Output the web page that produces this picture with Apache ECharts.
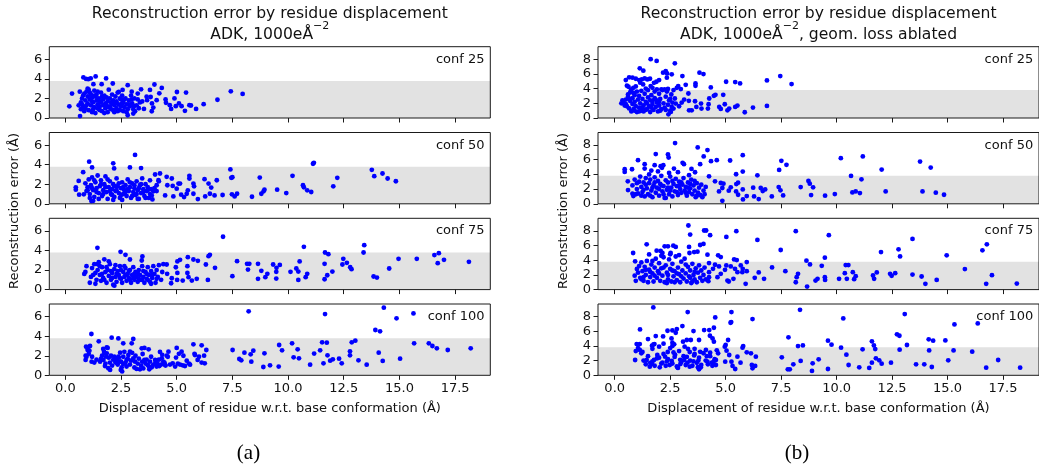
<!DOCTYPE html>
<html><head><meta charset="utf-8">
<script src="https://cdn.jsdelivr.net/npm/echarts@6/dist/echarts.min.js"></script>
<style>html,body{margin:0;padding:0;background:#fff}#c{width:1039px;height:464px}</style>
</head><body><div id="c"></div>
<script>
const xTicks=[0,2.5,5,7.5,10,12.5,15,17.5];
const yTicksA=[0,2,4,6];
const yTicksB=[0,2,4,6,8];
const confLabels=['conf 25','conf 50','conf 75','conf 100'];
const bandTop=3.8;
const titleA=['Reconstruction error by residue displacement','{n|ADK, 1000eÅ}{s|−2}'];
const titleB=['Reconstruction error by residue displacement','{n|ADK, 1000eÅ}{s|−2}{n|, geom. loss ablated}'];
const xName='Displacement of residue w.r.t. base conformation (Å)';
const yName='Reconstruction error (Å)';

const a25=[[0.81,4.15],[0.93,4.0],[1.03,3.98],[1.14,4.05],[1.36,4.26],[1.83,4.05],[0.66,0.2],[2.8,0.28],[2.13,3.53],[1.63,3.46],[1.26,3.46],[2.8,3.36],[3.4,2.94],[4.0,3.43],[4.33,3.08],[4.22,2.53],[3.8,2.87],[3.65,2.18],[3.83,2.15],[4.1,1.83],[4.5,1.9],[4.9,2.0],[5.01,2.66],[5.42,2.6],[6.83,1.87],[7.43,2.73],[7.96,2.46],[6.21,1.42],[5.87,0.93],[5.57,1.31],[5.22,1.21],[5.1,1.49],[4.96,1.21],[4.75,0.93],[5.37,0.73],[5.64,1.28],[3.89,1.49],[3.88,0.69],[3.53,0.93],[3.35,1.59],[3.13,0.69],[3.05,0.45],[2.4,2.66],[2.57,2.87],[2.98,2.7],[3.25,1.9],[2.98,1.9],[3.08,1.21],[3.95,1.07],[3.67,1.83],[4.52,1.56],[4.69,1.31],[0.18,1.2],[0.3,2.5],
[0.6,1.3],[0.7,1.6],[0.75,2.0],[0.8,1.2],[0.85,2.5],[0.9,1.8],[0.9,1.0],[0.95,2.7],[1.0,1.5],[1.0,2.2],[1.05,0.8],[1.1,1.9],[1.1,2.6],[1.15,1.3],[1.2,0.6],[1.2,2.1],[1.25,1.6],[1.3,2.8],[1.3,1.1],[1.35,0.5],[1.4,1.8],[1.4,2.4],[1.45,1.4],[1.5,0.9],[1.5,2.0],[1.55,1.2],[1.6,2.6],[1.6,1.6],[1.65,0.7],[1.7,1.9],[1.7,1.3],[1.75,2.3],[1.8,1.0],[1.8,1.5],[1.85,2.1],[1.9,0.6],[1.9,1.7],[1.95,2.9],[2.0,1.2],[2.0,2.0],[2.05,0.9],[2.1,1.5],[2.1,2.4],[2.15,1.8],[2.2,0.6],[2.2,1.3],[2.25,2.2],[2.3,1.0],[2.3,1.7],[2.35,2.6],[2.4,1.4],[2.45,0.8],[2.5,1.9],[2.5,1.2],[2.55,2.3],[2.6,0.7],[2.6,1.6],[2.65,1.1],[2.7,2.0],[2.75,1.4],[2.8,0.9],[2.85,1.8],[2.9,1.2],[2.95,2.3],[3.0,1.5],[0.7,0.9],[0.8,2.3],[1.0,3.0],[1.15,2.4],[1.25,0.9],[1.35,2.2],[1.45,1.0],[1.55,1.7],[1.65,2.2],[1.75,0.5],[1.85,1.3],[1.95,1.1],[2.05,1.6],[2.15,0.8],[2.25,1.5],[2.35,0.7],[2.45,2.0],[2.55,1.5],[2.65,1.9],[2.75,0.6],[2.85,1.4],[3.05,0.9],[3.1,2.0],[3.2,1.3],[3.25,2.5],[3.3,1.0],[3.45,1.7],[0.65,2.7],[0.75,1.4],[0.85,0.7],[0.95,1.3],[1.05,2.9],[1.2,1.7],[1.3,2.3],[1.45,2.7],[1.55,0.8]];

const a50=[[1.07,4.31],[2.15,4.14],[3.13,5.0],[1.2,3.72],[2.19,3.62],[2.9,3.72],[3.4,3.66],[0.8,3.24],[0.6,2.34],[0.47,1.69],[0.47,1.45],[0.62,0.93],[0.83,0.97],[1.17,0.28],[7.41,3.52],[7.45,2.66],[7.5,2.72],[8.73,2.69],[10.2,2.86],[11.16,4.2],[11.12,4.1],[12.21,2.66],[12.03,1.79],[13.76,3.48],[13.87,2.83],[14.24,3.1],[14.47,2.59],[14.84,2.31],[10.67,1.9],[10.71,1.69],[10.86,1.38],[11.04,1.21],[9.51,1.45],[9.92,1.1],[8.94,1.45],[8.9,1.28],[8.8,1.03],[8.38,0.72],[7.71,1.03],[7.6,0.76],[7.48,0.97],[7.06,0.9],[6.8,2.41],[6.55,1.66],[6.43,2.07],[6.25,2.52],[6.7,0.86],[6.28,0.76],[6.49,1.03],[5.95,0.48],[5.75,2.07],[5.78,1.79],[5.75,1.03],[5.57,2.86],[5.57,2.59],[5.5,1.38],[5.45,1.03],[5.33,0.69],[5.15,2.07],[5.08,2.07],[5.0,1.55],[5.2,0.93],[4.85,0.76],[4.82,1.83],[4.78,2.59],[4.55,2.76],[4.58,1.9],[4.48,0.86],[4.25,3.1],[4.03,3.0],[4.18,2.41],[4.1,1.9],[3.95,1.28],[3.88,0.86],[3.91,0.45],
[0.9,2.1],[0.95,1.3],[1.0,1.7],[1.05,2.5],[1.1,1.0],[1.15,1.9],[1.2,2.7],[1.25,1.4],[1.3,0.7],[1.35,2.2],[1.4,1.6],[1.45,2.9],[1.5,1.1],[1.55,1.8],[1.6,2.4],[1.65,0.8],[1.7,1.4],[1.75,2.0],[1.8,2.8],[1.85,1.2],[1.9,0.5],[1.95,1.7],[2.0,2.3],[2.05,1.0],[2.1,1.5],[2.15,2.0],[2.2,0.7],[2.25,1.3],[2.3,2.6],[2.35,1.8],[2.4,1.1],[2.45,0.6],[2.5,1.6],[2.55,2.2],[2.6,1.0],[2.65,1.4],[2.7,1.9],[2.75,0.8],[2.8,2.5],[2.85,1.3],[2.9,1.7],[2.95,0.6],[3.0,2.1],[3.05,1.2],[3.1,1.6],[3.15,0.9],[3.2,2.3],[3.25,1.4],[3.3,0.5],[3.35,1.9],[3.4,1.1],[3.45,2.6],[3.5,1.5],[3.55,0.8],[3.6,2.0],[3.65,1.3],[3.7,1.7],[3.75,0.6],[3.8,2.4],[3.85,1.5],[1.0,1.4],[1.1,0.6],[1.2,1.6],[1.3,2.4],[1.4,1.2],[1.5,0.5],[1.6,2.0],[1.7,1.0],[1.8,1.7],[1.9,2.5],[2.0,1.3],[2.1,0.9],[2.2,1.8],[2.3,1.4],[2.4,2.1],[2.5,0.9],[2.6,1.7],[2.7,1.2],[2.8,1.5],[2.9,2.2],[3.0,0.8],[3.1,1.9],[3.2,1.0],[3.3,1.6],[3.4,2.0],[3.5,1.2],[3.6,0.6],[3.7,1.4],[3.8,1.0],[4.0,1.6],[4.1,1.3],[4.2,2.3],[1.25,0.3],[2.15,0.4],[2.55,0.4],[3.25,0.5]];

const a75=[[1.44,4.28],[2.48,3.87],[2.7,3.56],[3.46,3.39],[3.43,2.98],[2.9,3.08],[7.08,5.41],[10.71,4.38],[11.66,3.8],[11.81,3.63],[13.42,4.55],[13.39,3.8],[16.57,3.53],[16.77,3.73],[17.0,3.05],[16.72,2.71],[18.12,2.84],[15.78,3.15],[14.96,3.15],[14.54,2.16],[13.84,1.34],[13.99,1.23],[12.85,2.09],[12.79,2.29],[12.64,2.74],[12.44,2.57],[12.48,3.15],[11.99,1.85],[11.76,1.47],[11.64,1.06],[11.64,2.64],[10.86,1.61],[10.79,1.27],[10.52,2.88],[10.46,1.85],[10.37,2.16],[10.11,1.82],[10.46,0.99],[9.63,2.53],[9.48,2.23],[9.33,2.57],[9.47,1.82],[9.47,1.13],[9.07,1.61],[8.98,1.27],[8.8,1.92],[8.65,1.1],[8.65,2.64],[8.26,2.64],[8.16,2.64],[8.2,2.05],[7.71,2.91],[7.5,1.37],[6.72,2.23],[6.43,3.42],[6.49,3.56],[6.4,0.99],[6.31,2.57],[5.95,2.95],[5.75,3.08],[5.5,3.32],[5.48,2.4],[5.48,1.71],[5.9,1.1],[5.68,0.92],[5.53,1.27],[5.15,3.05],[5.03,2.88],[4.96,2.29],[5.03,1.71],[5.02,0.99],[5.27,0.92],[4.75,0.65],[4.78,1.16],[4.55,2.57],[4.57,1.61],
[0.85,1.6],[0.9,1.8],[0.95,2.4],[1.1,0.7],[1.15,1.3],[1.2,2.2],[1.3,2.6],[1.35,1.7],[1.4,1.0],[1.45,2.0],[1.5,2.8],[1.55,1.5],[1.6,0.9],[1.65,2.3],[1.7,1.2],[1.75,3.1],[1.8,1.8],[1.85,0.7],[1.9,2.0],[1.95,1.4],[2.0,2.6],[2.05,1.0],[2.1,1.7],[2.15,0.5],[2.2,2.1],[2.25,1.3],[2.3,0.8],[2.35,1.9],[2.4,1.5],[2.45,2.4],[2.5,1.1],[2.55,0.7],[2.6,1.8],[2.65,1.3],[2.7,2.2],[2.75,0.9],[2.8,1.6],[2.85,1.2],[2.9,2.0],[2.95,0.7],[3.0,1.5],[3.05,2.3],[3.1,1.0],[3.15,1.8],[3.2,1.3],[3.25,0.8],[3.3,2.0],[3.35,1.5],[3.4,1.0],[3.45,2.4],[3.5,1.3],[3.55,0.7],[3.6,1.8],[3.65,1.1],[3.7,2.3],[3.75,1.5],[3.8,0.8],[3.85,1.9],[3.9,1.2],[3.95,2.4],[4.0,1.6],[4.05,0.7],[4.1,2.0],[4.15,1.3],[4.2,2.5],[4.3,1.0],[4.35,1.8],[4.4,2.6],[1.25,1.5],[1.55,2.4],[1.75,1.0],[1.95,2.9],[2.1,1.2],[2.3,1.6],[2.5,2.0],[2.7,1.5],[2.9,1.0],[3.1,1.6],[3.3,1.1],[3.5,1.9],[3.7,1.0],[3.9,1.5],[4.1,1.1],[1.45,2.6],[1.65,1.6],[1.85,2.3],[2.05,1.9],[2.25,2.5],[2.45,1.2],[2.65,2.4],[2.85,1.9],[3.05,1.2],[3.25,1.7],[3.45,1.0],[3.65,1.6],[3.85,0.6],[1.35,0.6],[2.2,0.4]];

const a100=[[8.23,6.55],[11.66,6.27],[14.3,6.92],[14.87,5.83],[15.63,6.34],[13.92,4.64],[14.13,4.5],[1.17,4.23],[2.08,3.85],[2.38,3.78],[3.05,3.72],[1.5,3.48],[0.93,2.93],[1.11,3.0],[1.0,2.59],[1.86,2.86],[2.6,3.27],[2.98,3.27],[3.43,2.76],[3.74,2.66],[4.25,2.39],[4.63,2.42],[5.0,2.8],[5.22,2.42],[5.75,3.17],[6.12,3.07],[5.82,2.08],[6.23,2.01],[6.33,2.59],[6.26,1.23],[6.12,1.3],[5.94,1.57],[5.6,1.09],[5.37,0.95],[5.27,1.02],[4.97,1.81],[4.93,0.89],[4.82,1.23],[7.51,2.59],[7.81,1.67],[7.9,1.53],[8.04,2.32],[8.35,1.4],[8.32,2.15],[8.44,2.52],[8.89,0.85],[8.94,2.25],[9.19,1.02],[9.58,0.89],[9.6,3.1],[9.73,2.56],[10.18,3.27],[10.25,1.84],[10.43,2.66],[10.49,1.74],[10.99,1.09],[11.17,2.22],[11.44,2.56],[11.53,3.38],[11.74,3.34],[11.59,1.23],[11.77,2.05],[11.89,1.5],[12.01,1.64],[12.29,1.7],[12.41,1.23],[12.78,2.45],[12.78,2.05],[12.86,3.38],[13.02,3.55],[13.16,1.53],[13.53,1.09],[14.07,2.32],[14.25,1.47],[15.03,1.7],[15.66,3.27],[16.32,3.27],[16.48,3.0],[16.68,2.76],[17.17,2.59],[18.2,2.76],
[0.91,2.01],[0.91,1.57],[1.08,2.52],[1.18,1.4],[1.56,1.4],[1.71,1.57],[1.74,2.42],[1.86,2.25],[1.83,1.91],[1.78,0.95],[1.93,0.72],[2.01,0.55],[2.25,1.3],[2.31,1.74],[2.38,1.91],[2.46,2.32],[2.49,0.55],[2.53,0.82],[2.6,1.16],[2.75,1.57],[2.83,2.08],[2.9,2.42],[3.05,1.74],[3.13,1.4],[3.2,0.65],[3.35,0.61],[3.47,2.18],[3.55,1.57],[3.7,1.06],[3.77,0.61],[3.88,0.82],[4.03,1.57],[4.13,1.23],[4.22,0.95],[4.33,1.74],[4.4,1.4],[4.48,1.06],[4.55,2.01],
[1.2,1.9],[1.3,1.3],[1.4,1.6],[1.6,1.7],[1.65,2.0],[1.7,2.7],[1.75,2.3],[1.8,1.2],[1.9,2.8],[2.0,1.3],[2.1,1.0],[2.15,1.6],[2.2,1.9],[2.3,1.5],[2.35,1.1],[2.4,1.8],[2.5,1.4],[2.55,0.4],[2.6,1.9],[2.7,1.3],[2.75,0.9],[2.8,1.7],[2.9,1.1],[2.95,1.5],[3.0,2.3],[3.1,0.8],[3.15,2.0],[3.25,1.2],[3.3,1.7],[3.4,1.0],[3.45,1.4],[3.5,0.7],[3.6,1.2],[3.65,1.6],[3.75,0.9],[3.8,1.4],[3.85,1.9],[3.95,1.1],[4.05,1.3],[4.1,0.9],[4.2,1.6],[4.3,1.1],[4.35,2.1],[4.45,1.3],[4.5,1.0],[4.6,1.9],[4.7,1.1],[5.1,2.2],[5.15,1.1],[5.3,2.0],[5.45,1.5],[5.55,1.2],[5.8,2.2],[6.0,1.9],[5.05,1.2],[1.0,2.8],[1.05,2.2],[0.95,1.9],[2.65,2.4],[3.55,2.8],[2.45,1.4],[1.95,1.8],[2.05,2.0]];

const b25=[[1.62,8.0],[1.89,7.76],[2.71,7.44],[1.13,6.76],[1.29,6.44],[2.3,6.39],[2.36,6.07],[2.18,6.16],[2.57,5.94],[3.82,6.16],[4.0,5.98],[3.05,5.71],[2.35,5.48],[0.5,5.16],[0.65,5.53],[0.8,5.48],[0.95,5.34],[1.1,5.16],[1.22,5.25],[1.35,5.39],[1.47,5.25],[1.59,5.34],[1.77,4.79],[1.88,4.93],[2.0,5.16],[0.62,4.25],[0.84,4.11],[1.28,4.57],[1.62,4.34],[2.8,4.11],[2.86,4.34],[2.98,3.93],[3.2,4.52],[3.64,4.7],[3.64,4.38],[4.33,4.16],[5.02,4.93],[5.43,4.89],[5.65,4.7],[6.86,5.11],[7.46,5.71],[7.97,4.61],[6.86,1.64],[6.23,1.42],[5.86,0.78],[5.53,1.69],[5.43,1.51],[5.16,1.28],[5.08,1.05],[4.96,1.87],[4.71,1.51],[4.78,1.23],[4.89,3.15],[4.54,3.15],[4.47,3.01],[4.26,2.65],[4.23,1.87],[4.2,1.28],[3.89,1.96],[3.91,1.28],[3.68,1.51],[3.47,1.05],[3.35,1.05],[3.62,2.28],[3.34,2.33],[3.32,3.33],[3.13,2.51],[3.02,2.1],[2.9,1.6],[2.75,1.96],[2.71,2.65],[2.65,1.28],[2.53,0.82],[2.42,0.5],[2.57,1.51],
[0.3,2.0],[0.4,2.1],[0.45,1.7],[0.5,2.5],[0.55,1.6],[0.6,3.2],[0.6,2.9],[0.65,1.3],[0.7,2.3],[0.7,3.5],[0.75,0.9],[0.8,1.9],[0.8,2.7],[0.85,1.2],[0.9,3.1],[0.9,2.2],[0.95,1.6],[1.0,3.6],[1.0,0.8],[1.05,2.5],[1.1,1.4],[1.1,3.0],[1.15,2.0],[1.2,1.0],[1.2,3.7],[1.25,2.6],[1.3,1.7],[1.3,0.9],[1.35,3.3],[1.4,2.2],[1.45,1.2],[1.5,2.8],[1.5,3.8],[1.55,1.6],[1.6,0.8],[1.6,2.4],[1.65,3.1],[1.7,1.9],[1.75,1.1],[1.8,2.7],[1.8,3.6],[1.85,1.5],[1.9,2.1],[1.95,0.9],[2.0,3.3],[2.0,1.7],[2.05,2.6],[2.1,1.2],[2.15,3.8],[2.2,2.0],[2.25,1.4],[2.3,2.9],[2.35,3.6],[2.4,1.8],[2.45,2.4],[2.5,1.0],[2.55,3.2],[2.6,2.1],[2.65,3.8],[0.55,4.4],[0.75,3.9],[0.95,4.3],[1.15,4.8],[1.4,4.0],[1.7,4.1],[1.9,3.9],[2.1,3.9],[2.25,3.9],[2.4,3.95],[0.35,2.4],[0.5,1.9],[0.65,2.6],[0.85,3.4],[1.25,1.4],[1.45,2.0],[1.65,1.4],[1.85,2.5],[2.05,1.0],[2.3,1.1],[2.5,2.6],[0.9,1.0],[1.1,0.9],[1.4,1.1],[1.7,2.3],[2.0,2.2]];

const b50=[[2.72,8.26],[3.74,7.67],[4.18,7.31],[1.85,6.76],[2.4,6.71],[2.43,6.3],[4.01,6.44],[5.77,6.62],[1.05,5.94],[4.34,5.8],[4.6,5.94],[5.2,5.89],[7.51,5.84],[7.74,5.3],[7.41,4.61],[10.19,6.21],[11.18,6.44],[12.03,4.66],[13.76,5.75],[14.24,4.93],[0.45,4.7],[0.45,4.34],[0.78,4.7],[1.35,5.39],[1.35,4.79],[1.65,4.52],[1.8,5.25],[2.07,5.11],[2.13,4.89],[2.19,5.25],[2.67,4.79],[3.06,5.57],[3.12,5.39],[3.46,4.75],[3.62,4.29],[3.85,5.39],[5.47,4.02],[5.77,4.38],[6.43,3.88],[0.59,3.06],[0.6,1.87],[0.84,1.05],[0.8,1.37],[4.25,3.74],[4.52,3.06],[4.78,2.83],[4.9,2.74],[4.85,2.15],[4.7,1.69],[4.85,0.41],[5.14,1.78],[5.23,2.24],[5.48,2.69],[5.56,2.88],[5.47,1.69],[5.56,1.23],[5.77,1.96],[5.78,0.59],[5.95,1.05],[6.24,2.19],[6.28,1.0],[6.49,0.64],[6.58,2.15],[6.67,1.74],[6.78,1.96],[7.08,1.0],[7.39,2.28],[7.47,1.83],[7.59,1.14],[8.38,2.28],[8.73,3.11],[8.79,2.74],[8.94,2.24],[8.85,1.19],[9.48,1.1],[9.92,1.32],[10.65,3.79],[11.12,3.33],[10.71,1.55],[10.86,1.69],[11.05,1.46],[12.21,1.69],[13.87,1.69],[14.47,1.51],[14.84,1.23],
[0.8,2.5],[0.9,3.3],[1.0,2.0],[1.05,1.4],[1.1,3.0],[1.15,3.7],[1.2,2.3],[1.25,1.6],[1.3,2.9],[1.35,1.0],[1.4,3.5],[1.45,2.1],[1.5,1.3],[1.55,2.8],[1.6,3.3],[1.65,1.8],[1.7,0.9],[1.75,2.5],[1.8,3.6],[1.85,1.5],[1.9,2.2],[1.95,3.1],[2.0,1.1],[2.05,2.7],[2.1,3.8],[2.15,1.7],[2.2,2.4],[2.25,0.8],[2.3,3.2],[2.35,1.9],[2.4,2.9],[2.45,1.3],[2.5,3.7],[2.55,2.2],[2.6,1.0],[2.65,2.7],[2.7,1.7],[2.75,3.4],[2.8,2.4],[2.85,1.2],[2.9,3.0],[2.95,2.0],[3.0,1.5],[3.05,2.6],[3.1,3.5],[3.15,1.8],[3.2,2.3],[3.25,1.1],[3.3,2.9],[3.35,1.6],[3.4,2.1],[3.45,3.3],[3.5,1.3],[3.55,2.5],[3.6,1.8],[3.65,0.9],[3.7,2.8],[3.75,1.5],[3.8,2.2],[3.85,1.2],[3.9,2.6],[4.0,1.8],[4.05,1.3],[4.1,2.3],[1.0,2.8],[1.2,1.1],[1.4,2.6],[1.6,1.1],[1.8,2.9],[2.0,2.0],[2.2,1.3],[2.4,2.2],[2.6,3.1],[2.8,1.6],[3.0,2.9],[3.2,1.5],[3.4,2.7],[3.6,3.1],[1.3,1.9],[1.7,2.2],[2.1,2.5],[2.5,1.8],[2.9,2.4],[3.3,2.2],[3.7,1.1],[1.55,4.0],[2.45,4.2],[1.95,4.4],[2.85,4.3],[3.35,3.9],[0.95,1.3],[2.3,0.8],[3.95,0.9]];

const b75=[[3.32,8.72],[3.4,7.49],[4.03,8.04],[4.12,8.04],[4.3,7.4],[5.03,7.17],[5.48,7.95],[6.43,6.76],[8.16,7.95],[9.65,7.4],[13.42,6.89],[16.77,6.16],[16.57,5.34],[1.44,6.16],[0.83,4.98],[0.92,3.84],[2.25,5.89],[2.4,5.89],[2.64,5.98],[2.75,5.8],[1.89,5.3],[2.07,5.25],[2.15,4.98],[2.52,4.98],[1.55,4.79],[3.35,5.8],[3.85,6.07],[4.0,6.21],[3.73,5.16],[3.37,4.98],[3.58,5.11],[4.18,4.75],[4.66,4.66],[4.78,4.43],[5.38,4.11],[5.5,4.02],[5.95,3.74],[5.68,3.29],[5.77,2.83],[7.48,5.39],[8.64,3.93],[8.8,3.42],[9.33,3.24],[9.47,4.34],[10.41,3.33],[10.53,3.33],[12.0,5.11],[12.79,5.48],[12.86,4.52],[14.96,4.66],[15.78,2.79],[7.09,3.01],[6.49,2.33],[6.31,1.6],[6.73,1.46],[5.9,0.78],[7.69,2.51],[8.26,2.15],[8.2,1.69],[8.16,1.0],[8.67,0.41],[9.05,1.23],[9.14,1.46],[9.47,1.69],[9.48,1.32],[10.11,1.46],[10.37,2.24],[10.46,1.46],[10.73,2.37],[10.86,1.83],[10.79,1.42],[11.64,1.92],[11.69,1.46],[11.81,2.33],[12.41,2.15],[12.48,1.87],[12.64,2.24],[13.42,2.05],[13.83,1.78],[14.0,0.78],[14.51,1.32],[17.0,1.96],[16.74,0.78],[18.12,0.82],
[5.14,1.1],[5.08,1.23],[5.35,1.46],[5.53,2.37],[5.75,2.37],[5.95,2.51],[5.42,2.83],[5.03,3.29],[5.23,3.15],[4.97,2.69],[4.78,2.15],[4.63,1.69],[4.7,3.15],[4.52,3.38],[4.43,2.83],[4.25,3.61],[4.25,2.37],[4.25,1.69],[4.22,1.14],
[0.9,1.9],[1.0,2.8],[1.05,2.3],[1.1,3.2],[1.15,1.6],[1.2,3.7],[1.25,2.5],[1.3,1.2],[1.35,3.1],[1.4,2.0],[1.45,3.9],[1.5,1.0],[1.55,2.7],[1.6,1.7],[1.65,3.4],[1.7,2.2],[1.75,1.1],[1.8,3.0],[1.85,4.2],[1.9,1.6],[1.95,2.5],[2.0,3.6],[2.05,1.2],[2.1,2.9],[2.15,1.9],[2.2,4.4],[2.25,1.0],[2.3,3.3],[2.35,2.3],[2.4,1.4],[2.45,4.1],[2.5,2.8],[2.55,1.1],[2.6,3.5],[2.65,1.8],[2.7,2.5],[2.75,4.5],[2.8,1.3],[2.85,3.0],[2.9,2.1],[2.95,1.0],[3.0,3.8],[3.05,2.6],[3.1,1.5],[3.15,4.2],[3.2,2.2],[3.25,1.1],[3.3,3.1],[3.35,1.8],[3.4,2.6],[3.45,0.9],[3.5,3.5],[3.55,2.0],[3.6,1.4],[3.65,2.9],[3.7,1.0],[3.75,2.3],[3.8,3.3],[3.85,1.6],[3.9,2.6],[3.95,1.2],[4.0,2.0],[4.05,3.0],[4.1,1.4],[1.2,1.4],[1.4,2.7],[1.6,2.4],[1.8,1.9],[2.0,2.2],[2.2,3.0],[2.4,2.0],[2.6,2.6],[2.8,2.2],[3.0,1.8],[3.2,3.4],[3.4,1.6],[3.6,2.4],[1.7,3.9],[2.1,4.6],[2.5,4.8],[2.9,4.7],[1.3,1.7],[2.35,0.9],[2.7,1.0],[3.5,1.1],[0.95,1.2]];

const b100=[[1.74,9.23],[3.29,8.6],[5.26,8.6],[8.35,8.91],[10.3,7.74],[13.07,8.33],[15.31,6.92],[16.36,7.06],[4.53,7.87],[6.21,7.65],[5.25,7.24],[5.22,7.15],[3.05,6.7],[1.14,6.24],[2.38,6.06],[2.6,6.11],[2.8,6.29],[2.75,5.79],[3.55,6.02],[4.03,6.15],[4.26,6.15],[4.47,6.47],[2.18,5.29],[1.85,5.34],[2.56,5.02],[4.29,5.38],[4.41,5.02],[3.8,4.8],[5.11,4.8],[3.25,4.8],[3.43,4.8],[3.08,4.57],[1.5,4.93],[0.99,4.25],[1.13,4.25],[1.68,4.03],[1.79,4.25],[2.6,4.43],[2.68,4.21],[4.47,4.57],[5.0,4.12],[4.96,3.89],[5.79,3.98],[5.76,3.76],[7.83,5.16],[8.26,3.98],[8.48,4.07],[9.61,4.71],[9.77,4.16],[12.72,5.57],[12.83,5.38],[12.84,3.48],[13.17,4.12],[11.59,4.62],[11.68,4.07],[11.74,3.57],[11.17,3.53],[10.2,3.76],[14.15,4.89],[14.35,4.71],[14.9,4.75],[14.17,3.39],[15.27,3.39],[16.11,3.21],[15.03,2.04],[16.74,1.04],[17.28,2.08],[18.27,1.04],[13.58,1.49],[13.95,1.49],[14.29,1.13],[12.45,1.72],[12.03,1.58],[11.92,2.04],[11.77,2.31],[11.59,1.72],[11.47,1.0],[11.02,1.09],[10.54,1.4],[10.44,2.81],[9.61,0.86],[9.19,2.17],[8.92,1.63],[8.89,0.59],[8.38,1.95],[8.05,1.49],[7.89,0.81],[7.8,0.81],[7.53,2.44],[6.33,1.27],[6.21,0.95],[6.18,1.4],[6.36,2.53],[6.14,2.99],[5.95,3.12],[5.67,1.72],[5.53,2.53],[5.43,0.86],[5.31,1.27],[5.26,1.86],[5.16,2.76],[4.98,1.86],[5.04,3.35],[4.66,2.99],[4.56,2.08],[4.56,1.4],[4.38,1.72],[4.3,3.08],[4.18,1.86],[4.11,3.44],[3.88,1.09],[3.77,2.0],[3.8,0.81],[3.58,2.71],[3.38,3.17],[3.28,1.72],[3.38,1.18],[3.13,2.08],[2.96,1.54],[2.83,1.09],[2.72,2.81],[2.57,1.95],[2.48,1.4],[2.39,3.17],[2.27,2.53],[2.15,1.72],[2.03,1.09],[1.92,2.76],[1.77,2.08],[1.67,1.54],[1.58,1.18],[1.44,2.08],[1.25,3.17],[1.13,3.44],[0.92,2.08],
[1.3,2.0],[1.5,2.6],[1.6,1.7],[1.7,3.6],[1.8,1.3],[1.9,2.3],[2.0,3.9],[2.1,1.6],[2.2,2.9],[2.3,1.3],[2.4,2.2],[2.5,3.7],[2.6,1.6],[2.7,2.5],[2.8,1.2],[2.9,3.3],[3.0,1.8],[3.1,2.6],[3.2,1.4],[3.3,3.6],[3.4,2.0],[3.5,1.3],[3.6,2.9],[3.7,1.7],[3.8,2.4],[3.9,1.4],[4.0,3.0],[4.1,2.0],[4.2,1.5],[4.3,2.6],[4.4,1.3],[4.5,2.2],[4.6,3.4],[1.7,1.9],[2.0,2.4],[2.35,1.9],[2.65,3.1],[2.95,2.1],[3.25,2.5],[3.55,1.9],[3.85,3.2],[4.15,2.6],[4.45,1.8],[1.75,4.2],[2.2,4.3],[2.6,4.0],[3.15,3.9],[3.6,3.6],[1.4,1.5],[1.2,3.0],[1.05,3.7],[0.95,3.3],[2.85,1.0],[3.75,1.1]];

const panels=[
  {left:49.3,xmin:-0.72,xmax:19.08,ymax:7.3,yt:yTicksA,sets:[a25,a50,a75,a100],title:titleA,cap:'(a)',capX:248.5,ylabX:14.5},
  {left:598,xmin:-0.753,xmax:19.12,ymax:9.7,yt:yTicksB,sets:[b25,b50,b75,b100],title:titleB,cap:'(b)',capX:797,ylabX:563.5}
];
const tops=[46.7,132.5,218.3,304];
const H=71.3, W=441;
const FONT='DejaVu Sans';

function bandItem(params,api){
  const p0=api.coord([api.value(0),api.value(2)]);
  const p1=api.coord([api.value(1),api.value(3)]);
  return {type:'rect',shape:{x:p0[0],y:p1[1],width:p1[0]-p0[0],height:p0[1]-p1[1]},style:{fill:'#e2e2e2'},silent:true};
}

const grid=[],xAxis=[],yAxis=[],series=[],graphic=[];
panels.forEach((p,pi)=>{
  p.sets.forEach((d,ri)=>{
    const gi=grid.length;
    grid.push({left:p.left,top:tops[ri],width:W,height:H,show:true,borderColor:'#1a1a1a',borderWidth:1,backgroundColor:'transparent',z:3});
    xAxis.push({type:'value',gridIndex:gi,min:p.xmin,max:p.xmax,position:'bottom',
      axisLine:{show:false,onZero:false},splitLine:{show:false},minorTick:{show:false},
      axisTick:{show:true,customValues:xTicks,length:4.5,lineStyle:{color:'#1a1a1a',width:1}},
      axisLabel:{show:ri===3,customValues:xTicks,formatter:v=>v.toFixed(1),color:'#111',fontSize:13,fontFamily:FONT,margin:7}});
    yAxis.push({type:'value',gridIndex:gi,min:0,max:p.ymax,position:'left',
      axisLine:{show:false,onZero:false},splitLine:{show:false},minorTick:{show:false},
      axisTick:{show:true,customValues:p.yt,length:4.5,lineStyle:{color:'#1a1a1a',width:1}},
      axisLabel:{show:true,customValues:p.yt,formatter:v=>String(v),color:'#111',fontSize:13,fontFamily:FONT,margin:7}});
    series.push({type:'custom',xAxisIndex:gi,yAxisIndex:gi,z:1,silent:true,renderItem:bandItem,
      encode:{x:[0,1],y:[2,3]},data:[[p.xmin,p.xmax,0,bandTop]],clip:true});
    series.push({type:'scatter',xAxisIndex:gi,yAxisIndex:gi,data:d,z:5,symbol:'circle',symbolSize:4.8,
      label:{show:false},itemStyle:{color:'#0000ff',opacity:1},silent:true,animation:false});
    graphic.push({type:'text',x:p.left+W-5.8,y:tops[ri]+12.8,style:{text:confLabels[ri],fill:'#111',font:'13px "'+FONT+'"',textAlign:'right',textVerticalAlign:'middle'}});
  });
  const cx=p.left+W/2;
  graphic.push({type:'text',x:cx,y:13.5,style:{text:p.title[0],fill:'#111',font:'15.6px "'+FONT+'"',textAlign:'center',textVerticalAlign:'middle'}});
  graphic.push({type:'text',x:cx,y:32,style:{text:p.title[1],fill:'#111',textAlign:'center',textVerticalAlign:'middle',
    rich:{n:{fontSize:15.6,fontFamily:FONT,fill:'#111',lineHeight:22,verticalAlign:'bottom'},s:{fontSize:11,fontFamily:FONT,fill:'#111',lineHeight:22,verticalAlign:'top'}}}});
  graphic.push({type:'text',x:cx,y:409,style:{text:xName,fill:'#111',font:'13px "'+FONT+'"',textAlign:'center',textVerticalAlign:'middle'}});
  graphic.push({type:'text',x:p.ylabX,y:(tops[0]+tops[3]+H)/2,rotation:Math.PI/2,style:{text:yName,fill:'#111',font:'13px "'+FONT+'"',textAlign:'center',textVerticalAlign:'middle'}});
  graphic.push({type:'text',x:p.capX,y:453,style:{text:p.cap,fill:'#000',font:'21px "Liberation Serif"',textAlign:'center',textVerticalAlign:'middle'}});
});

const chart=echarts.init(document.getElementById('c'),null,{renderer:'canvas'});
chart.setOption({animation:false,backgroundColor:'#fff',grid,xAxis,yAxis,series,graphic});
</script></body></html>
